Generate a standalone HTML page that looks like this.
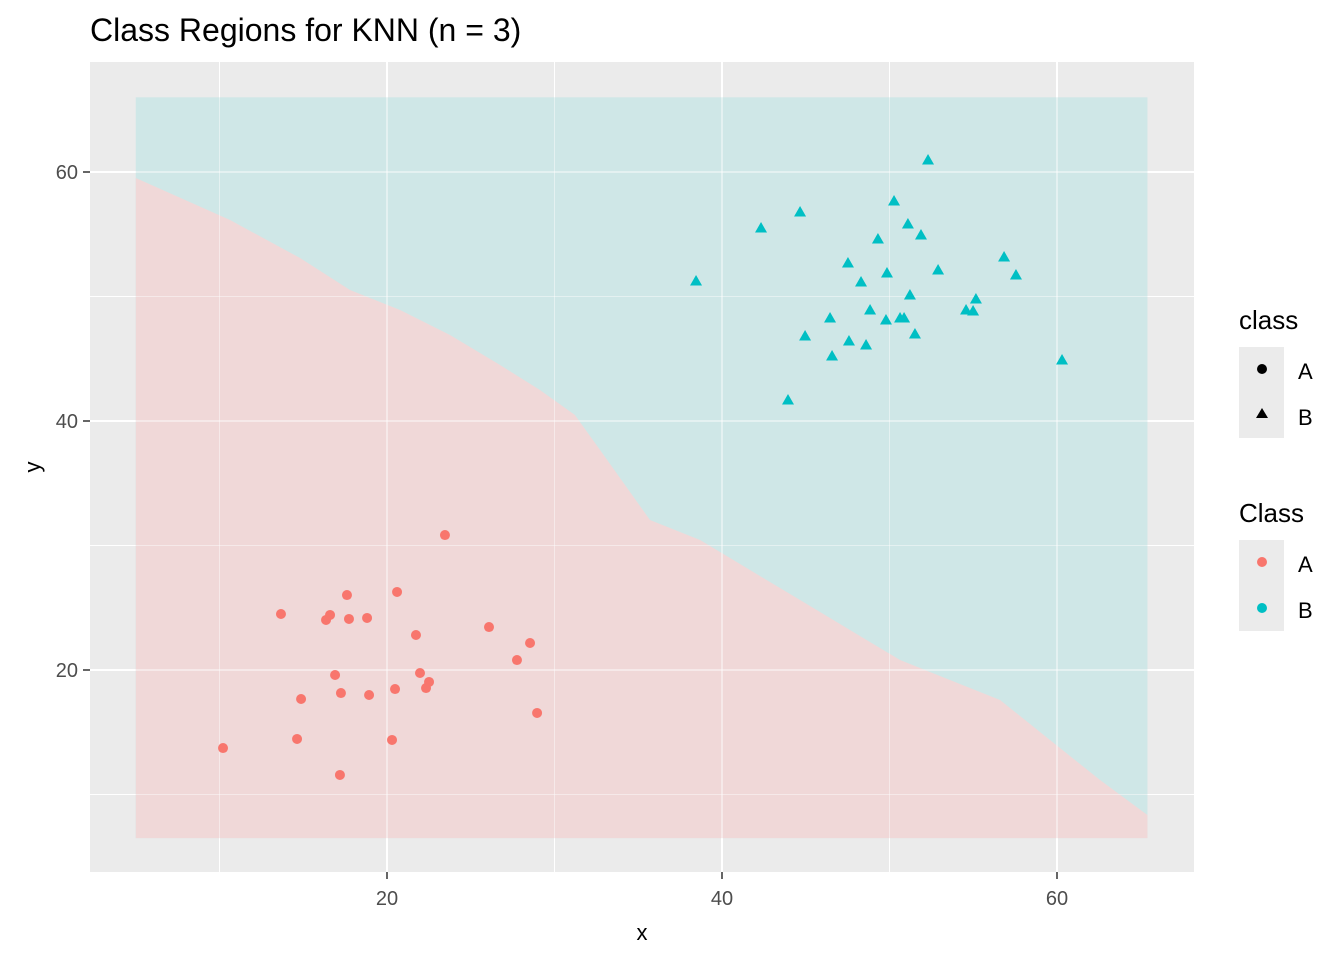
<!DOCTYPE html>
<html><head><meta charset="utf-8"><style>
body{margin:0;background:#fff;font-family:"Liberation Sans",sans-serif}
svg text{font-family:"Liberation Sans",sans-serif}
</style></head><body>
<svg id="chart" width="1344" height="960" xmlns="http://www.w3.org/2000/svg">
<rect x="0" y="0" width="1344" height="960" fill="#fff"/>
<text x="90" y="41" font-size="32" fill="#000">Class Regions for KNN (n = 3)</text>
<rect x="90" y="62" width="1104" height="810" fill="#ebebeb"/>
<g id="grid"></g>
<g id="regions"></g>
<g id="grid2"></g>
<g id="points"></g>
<g id="axes"></g>
<text x="642" y="940" font-size="22" text-anchor="middle">x</text>
<text x="40" y="467" font-size="22" text-anchor="middle" transform="rotate(-90 40 467)">y</text>
<g>
<text x="1239" y="329" font-size="26">class</text>
<rect x="1239" y="347" width="45" height="91" fill="#ebebeb"/>
<circle cx="1262" cy="369" r="5" fill="#000"/>
<polygon points="1262,408 1268,418 1256,418" fill="#000"/>
<text x="1298" y="379" font-size="22">A</text>
<text x="1298" y="425" font-size="22">B</text>
</g>
<g>
<text x="1239" y="522" font-size="26">Class</text>
<rect x="1239" y="540" width="45" height="91" fill="#ebebeb"/>
<circle cx="1262" cy="562" r="5" fill="#f8766d"/>
<circle cx="1262" cy="608" r="5" fill="#00bfc4"/>
<text x="1298" y="572" font-size="22">A</text>
<text x="1298" y="618" font-size="22">B</text>
</g>
</svg>
<script>
const xMajor=[20,40,60];
const xMinor=[10,30,50];
const yMajor=[20,40,60];
const yMinor=[10,30,50];
const gridX=[5,65.4];
const gridY=[6.5,66];
const boundaryX=[4.96,10.63,14.81,17.79,20.78,23.76,26.75,29.13,31.22,32.72,34.21,35.70,38.69,41.67,44.66,47.64,50.63,53.61,56.60,59.58,62.57,65.43];
const boundaryY=[59.52,56.14,53.09,50.52,48.92,46.91,44.50,42.49,40.48,37.67,34.86,32.05,30.44,28.03,25.62,23.21,20.80,19.20,17.59,14.38,11.16,8.35];
const aX=[10.21,13.67,14.63,14.87,16.36,16.60,16.90,17.25,17.61,17.73,18.81,18.93,20.30,20.48,20.60,21.73,21.97,22.33,22.51,23.46,26.09,27.76,28.54,28.96,17.19];
const aY=[13.73,24.50,14.46,17.67,24.02,24.42,19.60,18.15,26.02,24.10,24.18,17.99,14.38,18.47,26.27,22.81,19.76,18.55,19.04,30.84,23.45,20.80,22.17,16.55,11.57];
const bX=[38.45,42.33,44.66,43.94,44.96,46.45,46.57,47.52,47.58,48.30,48.60,48.84,49.31,49.85,49.79,50.27,50.63,50.87,51.10,51.22,51.52,51.88,52.30,52.90,54.57,54.99,55.16,56.84,57.55,60.30];
const bY=[51.24,55.50,56.79,41.69,46.83,48.27,45.22,52.69,46.43,51.16,46.10,48.92,54.62,51.89,48.11,57.67,48.27,48.27,55.82,50.12,46.99,54.94,60.96,52.13,48.92,48.84,49.80,53.17,51.73,44.90];
const sx=v=>52+v*16.75, sy=v=>919-v*12.45;
const NS='http://www.w3.org/2000/svg';
function mk(tag,attrs,parent){const e=document.createElementNS(NS,tag);for(const k in attrs)e.setAttribute(k,attrs[k]);document.getElementById(parent).appendChild(e);return e;}
function grids(parent,op){
 xMinor.forEach(v=>{const l=mk('line',{x1:sx(v),x2:sx(v),y1:62,y2:872,stroke:'#fff','stroke-width':1,opacity:op},parent);});
 yMinor.forEach(v=>{const l=mk('line',{x1:90,x2:1194,y1:sy(v),y2:sy(v),stroke:'#fff','stroke-width':1,opacity:op},parent);});
 xMajor.forEach(v=>{const l=mk('line',{x1:sx(v),x2:sx(v),y1:62,y2:872,stroke:'#fff','stroke-width':2,opacity:op},parent);});
 yMajor.forEach(v=>{const l=mk('line',{x1:90,x2:1194,y1:sy(v),y2:sy(v),stroke:'#fff','stroke-width':2,opacity:op},parent);});
}
grids('grid',1);
const x0=sx(gridX[0]),x1=sx(gridX[1]),yt=sy(gridY[1]),yb=sy(gridY[0]);
const r=mk('rect',{x:x0,y:yt,width:x1-x0,height:yb-yt,fill:'#cfe7e7'},'regions');


let d='M'+x0+','+yb;
boundaryX.forEach((v,i)=>{d+=' L'+sx(Math.max(gridX[0],Math.min(gridX[1],v)))+','+sy(boundaryY[i]);});
d+=' L'+x1+','+yb+' Z';
const p=mk('path',{d:d,fill:'#f0d8d8'},'regions');


grids('grid2',0.45);
aX.forEach((v,i)=>{const c=mk('circle',{cx:sx(v),cy:sy(aY[i]),r:5,fill:'#f8766d'},'points');});
bX.forEach((v,i)=>{const cx=sx(v),cy=sy(bY[i]);const t=mk('polygon',{points:`${cx},${cy-6} ${cx+6},${cy+4.5} ${cx-6},${cy+4.5}`,fill:'#00bfc4'},'points');});
xMajor.forEach(v=>{mk('line',{x1:sx(v),x2:sx(v),y1:872,y2:879,stroke:'#333','stroke-width':1.5},'axes');const t=mk('text',{x:sx(v),y:905,'font-size':20,'text-anchor':'middle',fill:'#4d4d4d'},'axes');t.textContent=v;});
yMajor.forEach(v=>{mk('line',{x1:83,x2:90,y1:sy(v),y2:sy(v),stroke:'#333','stroke-width':1.5},'axes');const t=mk('text',{x:78,y:sy(v)+7,'font-size':20,'text-anchor':'end',fill:'#4d4d4d'},'axes');t.textContent=v;});
</script>
</body></html>
